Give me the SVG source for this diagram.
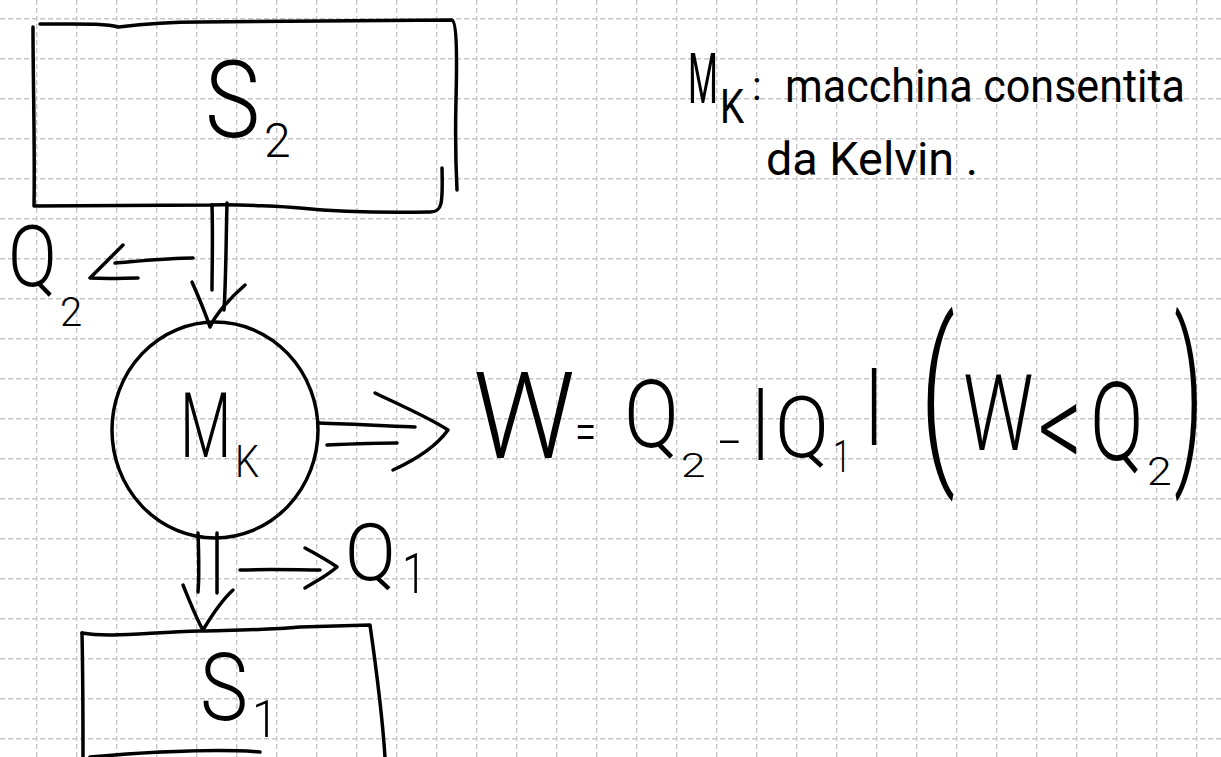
<svg xmlns="http://www.w3.org/2000/svg" width="1221" height="757" viewBox="0 0 1221 757">
<style>
.grid{stroke:#c6c6c6;stroke-width:1.4;stroke-dasharray:5 3;fill:none}
.ink{fill:none;stroke:#000;stroke-width:3.5;stroke-linecap:round;stroke-linejoin:round}
.t{font-family:Roboto,"Liberation Sans",sans-serif;fill:#000;font-weight:300}
.n{font-weight:400}
</style>
<rect width="1221" height="757" fill="#fff"/>
<g id="grid">
<path class="grid" d="M36.7,0V757M76.7,0V757M116.7,0V757M156.7,0V757M196.7,0V757M236.7,0V757M276.7,0V757M316.7,0V757M356.7,0V757M396.7,0V757M436.7,0V757M476.7,0V757M516.7,0V757M556.7,0V757M596.7,0V757M636.7,0V757M676.7,0V757M716.7,0V757M756.7,0V757M796.7,0V757M836.7,0V757M876.7,0V757M916.7,0V757M956.7,0V757M996.7,0V757M1036.7,0V757M1076.7,0V757M1116.7,0V757M1156.7,0V757M1196.7,0V757"/>
<path class="grid" d="M0,18.7H1221M0,58.7H1221M0,98.7H1221M0,138.7H1221M0,178.7H1221M0,218.7H1221M0,258.7H1221M0,298.7H1221M0,338.7H1221M0,378.7H1221M0,418.7H1221M0,458.7H1221M0,498.7H1221M0,538.7H1221M0,578.7H1221M0,618.7H1221M0,658.7H1221M0,698.7H1221M0,738.7H1221"/>
</g>
<g id="S2">
<path class="ink" d="M40,24 C80,24 105,23 118,27 C135,25 160,22 200,22 L452,20 C457,22 457,60 456,100 C455,140 456,170 457,190"/>
<path class="ink" d="M33,27 C33,80 35,150 34,206 L210,205 C240,204 290,207 300,208 C340,212 380,213 430,212 C442,212 443,205 442,168"/>
<text class="t" transform="translate(205,137) scale(0.86,1)" font-size="108">S</text>
<text class="t" x="264" y="157" font-size="48">2</text>
</g>
<g id="Mk">
<ellipse class="ink" cx="215" cy="430" rx="103" ry="108"/>
<text class="t" transform="translate(180,457) scale(0.66,1)" font-size="90">M</text>
<text class="t" transform="translate(235,477) scale(0.85,1)" font-size="45">K</text>
</g>
<g id="S1">
<path class="ink" d="M82,633 C110,638 150,632 200,631 C240,630 270,630 300,627 L370,625 C375,660 382,710 385,757"/>
<path class="ink" d="M82,633 C83,680 83,720 83,757"/>
<path class="ink" d="M90,757 C150,752 220,749 260,752"/>
<text class="t" transform="translate(200,720) scale(0.86,1)" font-size="94">S</text>
<text class="t" transform="translate(252,737) scale(0.9,1)" font-size="52">1</text>
</g>
<g id="labelQ2">
<text class="t" transform="translate(8,286) scale(0.85,1)" font-size="85">Q</text>
<text class="t" x="60" y="326" font-size="40">2</text>
</g>
<g id="labelQ1">
<text class="t" transform="translate(345,580) scale(0.94,1)" font-size="80">Q</text>
<text class="t" transform="translate(402,593) scale(0.8,1)" font-size="55">1</text>
</g>
<g id="equation">
<text class="t" transform="translate(473,458) scale(0.95,1)" font-size="120">W</text>
<text class="t" transform="translate(575,450) scale(0.7,1)" font-size="55">=</text>
<text class="t" transform="translate(624,447) scale(0.855,1)" font-size="95">Q</text>
<text class="t" transform="translate(681,477) scale(1.3,1)" font-size="34">2</text>
<text class="t" transform="translate(718,457) scale(1.6,1)" font-size="50">-</text>
<text class="t" x="751" y="449" font-size="86">|</text>
<text class="t" transform="translate(775,457) scale(0.94,1)" font-size="85">Q</text>
<text class="t" transform="translate(833,472) scale(0.73,1)" font-size="44">1</text>
<text class="t" x="864" y="433" font-size="90">|</text>
</g>
<g id="condition">
<text class="t" transform="translate(920,458) scale(0.58,1)" font-size="190">(</text>
<text class="t" transform="translate(963,450) scale(0.75,1)" font-size="105">W</text>
<text class="t" transform="translate(1038,468) scale(0.72,1)" font-size="120">&lt;</text>
<text class="t" transform="translate(1090,460) scale(0.72,1)" font-size="110">Q</text>
<text class="t" transform="translate(1147,485) scale(1.17,1)" font-size="38">2</text>
<text class="t" transform="translate(1174,458) scale(0.48,1)" font-size="190">)</text>
</g>
<g id="note">
<text class="t n" transform="translate(688,103) scale(0.49,1)" font-size="70">M</text>
<text class="t n" transform="translate(720,123) scale(0.8,1)" font-size="48">K</text>
<text class="t n" x="752" y="100" font-size="40">:</text>
<text class="t n" x="785" y="102" font-size="47" textLength="400" lengthAdjust="spacingAndGlyphs">macchina consentita</text>
<text class="t n" x="766" y="175" font-size="47" textLength="212" lengthAdjust="spacingAndGlyphs">da Kelvin .</text>
</g>
<g id="connectors">
<path class="ink" d="M212,205 C213,240 212,270 212,290"/>
<path class="ink" d="M227,203 C226,240 226,280 224,310"/>
<path class="ink" d="M192,282 C200,300 206,315 210,327 C215,315 230,298 245,285"/>
<path class="ink" d="M193,258 C170,258 140,261 115,263"/>
<path class="ink" d="M123,245 C110,258 98,270 90,278 C110,279 125,278 138,278"/>
<path class="ink" d="M318,423 C350,424 390,426 415,427"/>
<path class="ink" d="M327,445 C350,444 380,443 397,443"/>
<path class="ink" d="M375,393 C400,405 430,418 448,430 C435,448 415,460 393,470"/>
<path class="ink" d="M198,533 C199,560 199,580 198,592"/>
<path class="ink" d="M217,533 C217,560 217,580 217,593"/>
<path class="ink" d="M183,585 C190,602 197,620 203,630 C212,615 222,600 233,590"/>
<path class="ink" d="M240,570 C270,569 300,570 320,570"/>
<path class="ink" d="M305,548 C318,555 330,562 337,567 C328,575 315,582 305,588"/>
</g>
</svg>
